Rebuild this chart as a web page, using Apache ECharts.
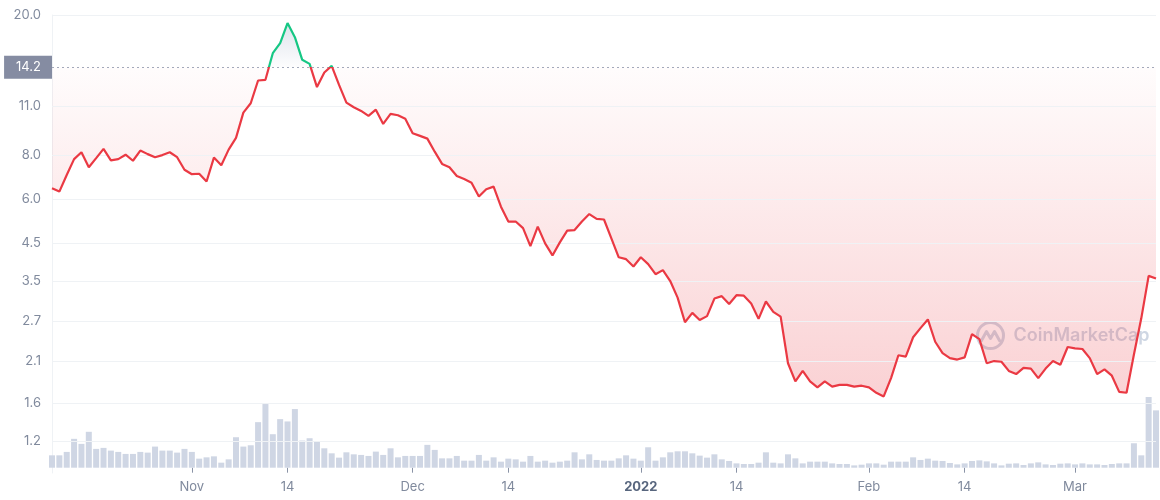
<!DOCTYPE html>
<html>
<head>
<meta charset="utf-8">
<script src="https://cdn.jsdelivr.net/npm/echarts@6/dist/echarts.min.js"></script>
<style>
html,body{margin:0;padding:0;background:#fff;}
#chart{width:1160px;height:500px;}
</style>
</head>
<body>
<div id="chart"></div>
<script>
const dates = [
'2021-10-13','2021-10-14','2021-10-15','2021-10-16','2021-10-17','2021-10-18','2021-10-19','2021-10-20','2021-10-21','2021-10-22',
'2021-10-23','2021-10-24','2021-10-25','2021-10-26','2021-10-27','2021-10-28','2021-10-29','2021-10-30','2021-10-31',
'2021-11-01','2021-11-02','2021-11-03','2021-11-04','2021-11-05','2021-11-06','2021-11-07','2021-11-08','2021-11-09','2021-11-10',
'2021-11-11','2021-11-12','2021-11-13','2021-11-14','2021-11-15','2021-11-16','2021-11-17','2021-11-18','2021-11-19','2021-11-20',
'2021-11-21','2021-11-22','2021-11-23','2021-11-24','2021-11-25','2021-11-26','2021-11-27','2021-11-28','2021-11-29','2021-11-30',
'2021-12-01','2021-12-02','2021-12-03','2021-12-04','2021-12-05','2021-12-06','2021-12-07','2021-12-08','2021-12-09','2021-12-10',
'2021-12-11','2021-12-12','2021-12-13','2021-12-14','2021-12-15','2021-12-16','2021-12-17','2021-12-18','2021-12-19','2021-12-20',
'2021-12-21','2021-12-22','2021-12-23','2021-12-24','2021-12-25','2021-12-26','2021-12-27','2021-12-28','2021-12-29','2021-12-30','2021-12-31',
'2022-01-01','2022-01-02','2022-01-03','2022-01-04','2022-01-05','2022-01-06','2022-01-07','2022-01-08','2022-01-09','2022-01-10',
'2022-01-11','2022-01-12','2022-01-13','2022-01-14','2022-01-15','2022-01-16','2022-01-17','2022-01-18','2022-01-19','2022-01-20',
'2022-01-21','2022-01-22','2022-01-23','2022-01-24','2022-01-25','2022-01-26','2022-01-27','2022-01-28','2022-01-29','2022-01-30','2022-01-31',
'2022-02-01','2022-02-02','2022-02-03','2022-02-04','2022-02-05','2022-02-06','2022-02-07','2022-02-08','2022-02-09','2022-02-10',
'2022-02-11','2022-02-12','2022-02-13','2022-02-14','2022-02-15','2022-02-16','2022-02-17','2022-02-18','2022-02-19','2022-02-20',
'2022-02-21','2022-02-22','2022-02-23','2022-02-24','2022-02-25','2022-02-26','2022-02-27','2022-02-28',
'2022-03-01','2022-03-02','2022-03-03','2022-03-04','2022-03-05','2022-03-06','2022-03-07','2022-03-08','2022-03-09','2022-03-10',
'2022-03-11','2022-03-12'
];

const prices = [
6.44,6.30,7.02,7.79,8.15,7.39,7.84,8.33,7.73,7.79,
8.02,7.71,8.24,8.05,7.89,8.00,8.15,7.89,7.27,7.06,
7.08,6.73,7.87,7.49,8.29,8.95,10.56,11.23,13.03,13.09,
15.58,16.64,18.97,17.30,14.92,14.53,12.48,13.73,14.34,12.66,
11.28,10.94,10.68,10.34,10.77,9.81,10.47,10.38,10.14,9.23,
9.07,8.91,8.18,7.55,7.39,6.98,6.84,6.68,6.10,6.40,
6.51,5.71,5.18,5.18,4.96,4.41,5.01,4.49,4.15,4.52,
4.88,4.90,5.18,5.44,5.27,5.25,4.64,4.10,4.05,3.86,
4.10,3.92,3.67,3.77,3.51,3.15,2.68,2.85,2.72,2.79,
3.13,3.18,3.02,3.20,3.19,3.03,2.74,3.07,2.87,2.78,
2.05,1.82,1.95,1.82,1.75,1.82,1.76,1.78,1.78,1.76,
1.77,1.75,1.69,1.65,1.86,2.16,2.14,2.43,2.58,2.73,
2.36,2.19,2.12,2.10,2.13,2.48,2.40,2.05,2.08,2.07,
1.95,1.91,1.99,1.98,1.86,1.98,2.08,2.03,2.28,2.26,
2.25,2.12,1.91,1.97,1.89,1.70,1.69,2.17,2.75,3.63,
3.57
];

const volumes = [
12.3,12.3,15.7,28.7,23.7,35.7,18.7,19.7,17,15.7,
13.7,13.7,15.7,15,21,17,17,15,18.7,15.7,
9,10.3,11.3,5,8.3,30.3,21,22.3,45.3,63.3,
33.3,48.3,46,58.3,27,29.3,26,19.3,14.3,10,
15.3,13.3,12.7,11.7,16,12.7,19.3,10.3,11.7,11.7,
11.7,22.7,17.7,9.3,9.3,11.7,7,7,12.7,7,
10.3,6,9,8.3,6,11.7,6,7,5,6,
7,15.3,8.3,13.3,7.7,7,7,9.3,12.3,9,
7,20.3,7,10.3,15.3,16.3,16.3,14.3,12,10,
13.3,8.3,6.7,4.3,3.7,3.7,5,15.3,5,4.3,
13.3,9.3,4.3,6,6,6,4.3,3.7,3.7,2.3,
3,4.3,4.3,3,6,6,6,10.3,7.7,9,
7,6.7,4.7,3.3,4.3,6.7,7.3,6.3,4.3,2.3,
4,4.3,2.7,4.3,5.3,3.3,2.7,4,4.3,3.3,
4.3,3.3,3.3,2.7,3.7,4.3,4.3,24.3,12.3,70.3,
57
];

const baseline = 14.2;
const baselineLabel = '14.2';
const yTickValues = [20, 11, 8, 6, 4.5, 3.5, 2.7, 2.08, 1.58, 1.234];
const yTickLabels = ['20.0', '11.0', '8.0', '6.0', '4.5', '3.5', '2.7', '2.1', '1.6', '1.2'];
const monthNames = ['Jan','Feb','Mar','Apr','May','Jun','Jul','Aug','Sep','Oct','Nov','Dec'];
const firstLabelledDate = '2021-11-01';

const RED = '#ea3943';
const GREEN = '#16c784';
const LABEL = '#808a9d';
const FONT = 'Inter, "Noto Sans", sans-serif';

// derived tables for the fill between the price line and the baseline
const redBase = prices.map(v => Math.min(v, baseline));
const redFill = prices.map(v => +(baseline - Math.min(v, baseline)).toFixed(4));
const greenBase = prices.map(() => baseline);
const greenFill = prices.map(v => +(Math.max(v, baseline) - baseline).toFixed(4));

function showTick(index) {
  const s = dates[index];
  if (s < firstLabelledDate) return false;
  const day = +s.split('-')[2];
  return day === 1 || day === 14;
}
function fmtDate(value) {
  const d = value.split('-');
  const m = +d[1], day = +d[2];
  if (day === 14) return '14';
  if (m === 1) return '{b|' + d[0] + '}';
  return monthNames[m - 1];
}

const chart = echarts.init(document.getElementById('chart'), null, {renderer: 'canvas'});
chart.setOption({
  animation: false,
  backgroundColor: '#ffffff',
  grid: [
    {left: 52, right: 4, top: 15, height: 458},
    {left: 52, right: 4, top: 397, height: 70.7}
  ],
  xAxis: [
    {type: 'category', gridIndex: 0, data: dates, boundaryGap: false, show: false},
    {
      type: 'category', gridIndex: 1, data: dates, boundaryGap: false,
      axisLine: {show: false},
      axisTick: {show: true, interval: showTick, length: 5, lineStyle: {color: '#8a93a6', width: 1}},
      axisLabel: {
        interval: showTick, formatter: fmtDate, color: LABEL, fontSize: 13, fontFamily: FONT, margin: 13,
        rich: {b: {fontWeight: 'bold', color: '#58667e', fontSize: 13, fontFamily: FONT}}
      },
      splitLine: {show: false}
    }
  ],
  yAxis: [
    {
      type: 'log', gridIndex: 0, logBase: 10, min: 1, max: 20,
      axisLine: {show: true, lineStyle: {color: '#eff2f5'}},
      axisTick: {show: false}, axisLabel: {show: false}, splitLine: {show: false}
    },
    {
      type: 'value', gridIndex: 1, min: 0, max: 'dataMax', show: false,
      splitLine: {show: false}
    }
  ],
  visualMap: {
    show: false, type: 'piecewise', seriesIndex: 4, dimension: 1,
    pieces: [
      {gt: baseline, lte: 40, color: GREEN},
      {gte: 0.5, lte: baseline, color: RED}
    ],
    outOfRange: {color: RED}
  },
  graphic: [
    {
      type: 'group', left: 975, top: 320, silent: true, z: 1,
      children: [
        {type: 'circle', shape: {cx: 15, cy: 14, r: 13}, style: {fill: 'none', stroke: 'rgba(190,200,218,0.75)', lineWidth: 3}},
        {type: 'polyline', shape: {points: [[6, 19], [11, 10], [15, 17], [19, 10], [24, 19]]}, style: {fill: 'none', stroke: 'rgba(190,200,218,0.75)', lineWidth: 3, lineJoin: 'round', lineCap: 'round'}},
        {type: 'text', x: 38, y: 14, style: {text: 'CoinMarketCap', fill: 'rgba(190,200,218,0.75)', font: '600 18px ' + FONT, textVerticalAlign: 'middle'}}
      ]
    }
  ],
  series: [
    {
      name: 'redBase', type: 'line', xAxisIndex: 0, yAxisIndex: 0, stack: 'red', data: redBase,
      symbol: 'none', lineStyle: {width: 0, opacity: 0}, silent: true, z: 1,
      markLine: {
        silent: true, symbol: 'none', animation: false,
        lineStyle: {color: '#eff2f5', type: 'solid', width: 1},
        label: {position: 'start', distance: 11, color: LABEL, fontSize: 13, fontFamily: FONT},
        emphasis: {disabled: true},
        data: yTickValues.map((v, k) => ({yAxis: v, label: {formatter: yTickLabels[k]}}))
      }
    },
    {
      name: 'redFill', type: 'line', xAxisIndex: 0, yAxisIndex: 0, stack: 'red', data: redFill,
      symbol: 'none', lineStyle: {width: 0, opacity: 0}, silent: true, z: 2,
      areaStyle: {
        color: {type: 'linear', x: 0, y: 0, x2: 0, y2: 1, colorStops: [
          {offset: 0, color: 'rgba(234,57,67,0.02)'},
          {offset: 1, color: 'rgba(234,57,67,0.33)'}
        ]}
      }
    },
    {
      name: 'greenBase', type: 'line', xAxisIndex: 0, yAxisIndex: 0, stack: 'green', data: greenBase,
      symbol: 'none', lineStyle: {width: 0, opacity: 0}, silent: true, z: 1
    },
    {
      name: 'greenFill', type: 'line', xAxisIndex: 0, yAxisIndex: 0, stack: 'green', data: greenFill,
      symbol: 'none', lineStyle: {width: 0, opacity: 0}, silent: true, z: 2,
      areaStyle: {
        color: {type: 'linear', x: 0, y: 0, x2: 0, y2: 1, colorStops: [
          {offset: 0, color: 'rgba(170,182,205,0.55)'},
          {offset: 1, color: 'rgba(170,182,205,0.03)'}
        ]}
      }
    },
    {
      name: 'price', type: 'line', xAxisIndex: 0, yAxisIndex: 0, data: prices,
      symbol: 'none', lineStyle: {width: 2.2}, z: 5,
      markLine: {
        silent: true, symbol: 'none', animation: false,
        lineStyle: {color: '#a3a9ba', type: [2, 3], width: 1},
        label: {
          position: 'start', distance: 0, formatter: baselineLabel, color: '#ffffff',
          backgroundColor: '#858ca2', padding: [5, 11, 5, 12], fontSize: 13, lineHeight: 13, fontFamily: FONT
        },
        emphasis: {disabled: true},
        data: [{yAxis: baseline}]
      }
    },
    {
      name: 'volume', type: 'bar', xAxisIndex: 1, yAxisIndex: 1, data: volumes,
      barWidth: 6, itemStyle: {color: '#cfd6e4'}, silent: true, z: 2
    }
  ]
});
</script>
</body>
</html>
